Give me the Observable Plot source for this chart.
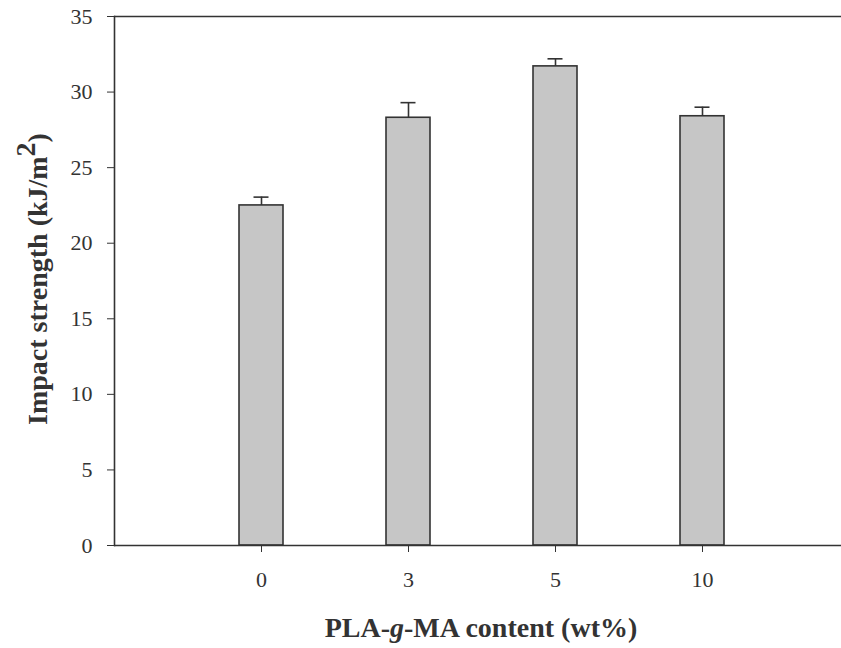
<!DOCTYPE html>
<html><head><meta charset="utf-8">
<script src="https://cdn.jsdelivr.net/npm/d3@7"></script>
<script src="https://cdn.jsdelivr.net/npm/@observablehq/plot@0.6"></script>
<style>
body{margin:0;background:#fff;}
svg{display:block;}
#chart svg text{font-family:"Liberation Serif","Times New Roman",serif !important;}
#chart svg g[aria-label$="tick label"] text{font-size:22px !important;fill:#333 !important;}
</style>
</head><body><div id="chart"></div>
<script>
const contents = ["0", "3", "5", "10"];
const impact = [22.5, 28.3, 31.7, 28.4];
const errors = [0.55, 1.0, 0.5, 0.6];
const yTicks = [0, 5, 10, 15, 20, 25, 30, 35];

const data = contents.map((c, i) => ({c, v: impact[i], e: errors[i]}));
const ink = "#333";
const serif = "Liberation Serif, Times New Roman, serif";

const chart = Plot.plot({
  width: 841, height: 648,
  marginLeft: 114, marginRight: 0, marginTop: 16, marginBottom: 103,
  style: {fontFamily: serif, fontSize: "22px", background: "#fff", color: ink},
  x: {type: "band", domain: contents, range: [114, 849], paddingInner: 0.7, paddingOuter: 0.85, align: 0.5, label: null},
  y: {domain: [0, 35], label: null},
  marks: [
    Plot.barY(data, {x: "c", y: "v", fill: "#c6c6c6", stroke: ink, strokeWidth: 1.6}),
    Plot.ruleX(data, {x: "c", y1: "v", y2: d => d.v + d.e, stroke: ink, strokeWidth: 1.6}),
    Plot.tickY(data, {x: "c", y: d => d.v + d.e, stroke: ink, strokeWidth: 1.6, insetLeft: 14.5, insetRight: 14.5}),
    Plot.frame({anchor: "left", stroke: ink, strokeWidth: 1.6}),
    Plot.ruleY([0, 35], {stroke: ink, strokeWidth: 1.6}),
    Plot.axisX({tickSize: 7, tickPadding: 19, label: null, stroke: ink, fill: ink, fontSize: 22}),
    Plot.axisY({ticks: yTicks, tickSize: 7, tickPadding: 15, label: null, stroke: ink, fill: ink, fontSize: 22})
  ]
});
document.getElementById("chart").append(chart);

const svg = d3.select(chart);
svg.selectAll('g[aria-label$="tick label"]').attr("font-size", 22).attr("font-family", serif);

const xt = svg.append("text")
  .attr("x", 481).attr("y", 637)
  .attr("text-anchor", "middle")
  .attr("font-family", serif)
  .attr("font-size", 28).attr("font-weight", "bold").attr("fill", ink);
xt.append("tspan").text("PLA-");
xt.append("tspan").attr("font-style", "italic").text("g");
xt.append("tspan").text("-MA content (wt%)");

const yt = svg.append("text")
  .attr("transform", "translate(47,279) rotate(-90)")
  .attr("text-anchor", "middle")
  .attr("font-family", serif)
  .attr("font-size", 28).attr("font-weight", "bold").attr("fill", ink);
yt.append("tspan").text("Impact strength (kJ/m");
yt.append("tspan").attr("dy", -12).text("2");
yt.append("tspan").attr("dy", 12).text(")");
</script>
</body></html>
